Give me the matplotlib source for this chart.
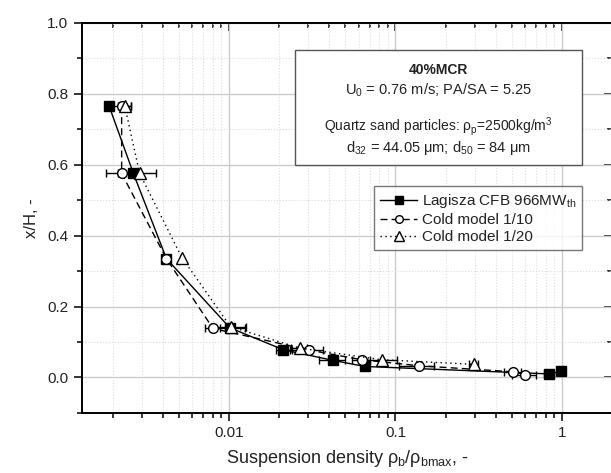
import matplotlib
matplotlib.use("Agg")
import matplotlib.pyplot as plt
from matplotlib.patches import Rectangle
from matplotlib.lines import Line2D
from matplotlib.ticker import LogLocator, MultipleLocator, FixedLocator

plt.rcParams["font.family"] = ["Liberation Sans", "DejaVu Sans"]
plt.rcParams["mathtext.fontset"] = "custom"
plt.rcParams["mathtext.rm"] = "Liberation Sans"
plt.rcParams["mathtext.it"] = "Liberation Sans"
plt.rcParams["mathtext.bf"] = "Liberation Sans:bold"

# Lagisza CFB 966MWth (filled squares, solid)
lag_x = [0.0019, 0.00266, 0.0042, 0.0101, 0.0212, 0.0423, 0.0655, 0.84, 0.99]
lag_y = [0.765, 0.575, 0.335, 0.140, 0.078, 0.048, 0.031, 0.010, 0.017]
lag_xerr = [0, 0, 0, 0.0024, 0.002, 0.0075, 0, 0.06, 0]

# Cold model 1/10 (open circles, dashed)
c10_x = [0.00226, 0.00226, 0.0042, 0.0080, 0.0304, 0.0626, 0.138, 0.51, 0.60]
c10_y = [0.765, 0.575, 0.335, 0.138, 0.077, 0.050, 0.033, 0.016, 0.008]
c10_xerr = [0.0003, 0.00044, 0, 0.0008, 0.0064, 0.008, 0.033, 0.06, 0.1]

# Cold model 1/20 (open triangles, dotted)
c20_x = [0.00236, 0.0029, 0.0052, 0.0102, 0.0265, 0.0825, 0.295]
c20_y = [0.765, 0.575, 0.338, 0.143, 0.083, 0.050, 0.037]
c20_xerr = [0.0002, 0.00075, 0, 0.0024, 0.003, 0.02, 0.02]

labels = ["Lagisza CFB 966MW$_{\\mathregular{th}}$", "Cold model 1/10", "Cold model 1/20"]
DASH = (0, (5, 3))
DOT = (0, (1, 2.5))
TXT = "#222222"

fig = plt.figure(figsize=(6.11, 4.73), dpi=100)
ax = fig.add_axes([0.1337, 0.127, 0.8678, 0.825])

ax.set_xscale("log")
ax.set_xlim(0.0013, 2.0)
ax.set_ylim(-0.1, 1.0)

# grid
ax.xaxis.set_major_locator(FixedLocator([0.01, 0.1, 1]))
ax.xaxis.set_minor_locator(LogLocator(base=10, subs=range(2, 10)))
ax.yaxis.set_major_locator(FixedLocator([0.0, 0.2, 0.4, 0.6, 0.8, 1.0]))
ax.yaxis.set_minor_locator(MultipleLocator(0.1))
ax.grid(True, which="major", color="#cccccc", lw=1.0, ls="-", zorder=0)
ax.grid(True, which="minor", color="#dddddd", lw=0.8, ls=":", zorder=0)
ax.set_axisbelow(True)

ax.set_xticklabels(["0.01", "0.1", "1"])
ax.set_yticklabels(["0.0", "0.2", "0.4", "0.6", "0.8", "1.0"])
ax.xaxis.set_minor_formatter(plt.NullFormatter())

ax.tick_params(which="both", direction="out", top=False, right=False,
               labelsize=11, labelcolor=TXT, width=1.1)
ax.tick_params(which="major", length=6)
ax.tick_params(which="minor", length=3.5)
# inward ticks on top/right
sec_x = ax.secondary_xaxis("top")
sec_x.set_xticks([0.01, 0.1, 1])
sec_x.xaxis.set_minor_locator(LogLocator(base=10, subs=range(2, 10)))
sec_x.tick_params(which="both", direction="in", labeltop=False, width=1.1)
sec_x.tick_params(which="major", length=6)
sec_x.tick_params(which="minor", length=3.5)
sec_x.set_xticklabels([])
sec_x.xaxis.set_minor_formatter(plt.NullFormatter())
sec_y = ax.secondary_yaxis("right")
sec_y.set_yticks([0.0, 0.2, 0.4, 0.6, 0.8, 1.0])
sec_y.yaxis.set_minor_locator(MultipleLocator(0.1))
sec_y.tick_params(which="both", direction="in", labelright=False, width=1.1)
sec_y.tick_params(which="major", length=6)
sec_y.tick_params(which="minor", length=3.5)
sec_y.set_yticklabels([])

for s in list(ax.spines.values()) + list(sec_x.spines.values()) + list(sec_y.spines.values()):
    s.set_linewidth(1.4)

# data
ax.errorbar(lag_x, lag_y, xerr=lag_xerr, color="black", ls="-", lw=1.0,
            marker="s", ms=7, mfc="black", mec="black", capsize=3,
            elinewidth=1.0, zorder=4)
ax.errorbar(c10_x, c10_y, xerr=c10_xerr, color="black", ls=DASH, lw=1.0,
            marker="o", ms=7, mfc="white", mec="black", capsize=3,
            elinewidth=1.0, zorder=5)
ax.errorbar(c20_x, c20_y, xerr=c20_xerr, color="black", ls=DOT, lw=1.0,
            marker="^", ms=8, mfc="white", mec="black", capsize=3,
            elinewidth=1.0, zorder=5)

handles = [
    Line2D([], [], color="black", ls="-", lw=1.0, marker="s", ms=5.5, mfc="black"),
    Line2D([], [], color="black", ls=DASH, lw=1.0, marker="o", ms=5.5, mfc="white"),
    Line2D([], [], color="black", ls=DOT, lw=1.0, marker="^", ms=6.5, mfc="white"),
]
leg = ax.legend(handles, labels, loc="upper right", bbox_to_anchor=(0.944, 0.582),
                fontsize=11, frameon=True, fancybox=False, edgecolor="#555555",
                handlelength=2.4, handletextpad=0.3, borderpad=0.4,
                labelspacing=0.2, borderaxespad=0)
leg.get_frame().set_linewidth(1.0)
for t in leg.get_texts():
    t.set_color(TXT)

# info box
ax.add_patch(Rectangle((0.403, 0.635), 0.541, 0.295, transform=ax.transAxes,
                       facecolor="white", edgecolor="#555555", lw=1.0, zorder=6))
cx = 0.673
ax.text(cx, 0.880, "40%MCR", transform=ax.transAxes, ha="center", va="center",
        fontsize=10, fontweight="bold", color=TXT, zorder=7)
ax.text(cx, 0.828, "U$_0$ = 0.76 m/s; PA/SA = 5.25", transform=ax.transAxes,
        ha="center", va="center", fontsize=10.5, color=TXT, zorder=7)
ax.text(cx, 0.733, "Quartz sand particles: $\\rho_\\mathregular{p}$=2500kg/m$^3$",
        transform=ax.transAxes, ha="center", va="center", fontsize=10,
        color=TXT, zorder=7)
ax.text(cx, 0.680, "d$_{32}$ = 44.05 $\\mu$m; d$_{50}$ = 84 $\\mu$m",
        transform=ax.transAxes, ha="center", va="center", fontsize=10.5,
        color=TXT, zorder=7)

ax.set_xlabel("Suspension density $\\rho_\\mathregular{b}$/$\\rho_\\mathregular{bmax}$, -",
              fontsize=13, color=TXT, labelpad=6)
ax.set_ylabel("x/H, -", fontsize=12, color=TXT, labelpad=6)

fig.savefig("out.png", dpi=100)
